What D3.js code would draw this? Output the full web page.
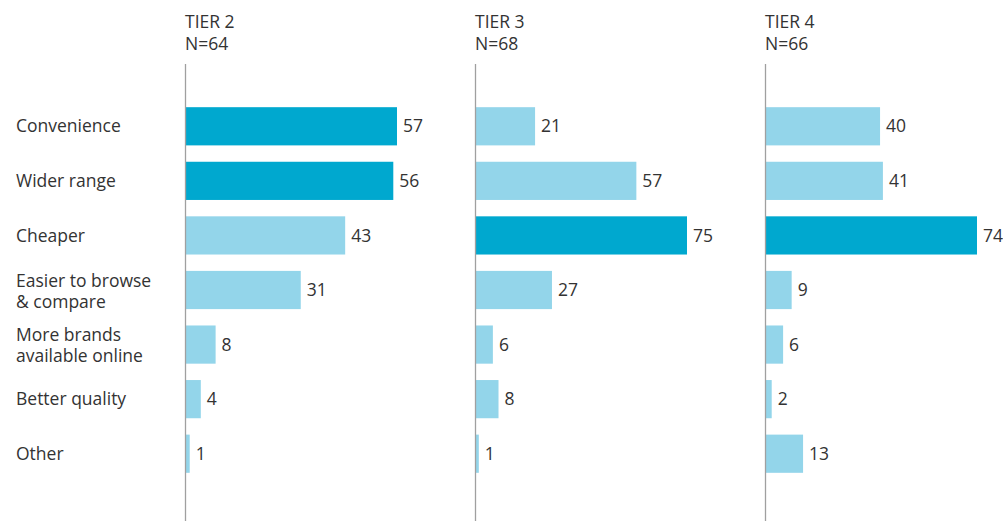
<!DOCTYPE html>
<html>
<head>
<meta charset="utf-8">
<script src="https://cdn.jsdelivr.net/npm/d3@7"></script>
<style>
  body { margin: 0; background: #fff; }
  text { font-family: "Open Sans", "Noto Sans", sans-serif; fill: #333; }
</style>
</head>
<body>
<div id="vis"></div>
<script>
const WIDTH = 1003;
const HEIGHT = 521;

// data
const categories = ["Convenience", "Wider range", "Cheaper", "Easier to browse\n& compare",
                    "More brands\navailable online", "Better quality", "Other"];
const tiers = ["TIER 2", "TIER 3", "TIER 4"];
const sampleSizes = ["N=64", "N=68", "N=66"];
const tier2 = [57, 56, 43, 31, 8, 4, 1];
const tier3 = [21, 57, 75, 27, 6, 8, 1];
const tier4 = [40, 41, 74, 9, 6, 2, 13];
const highlighted = [["Convenience", "Wider range"], ["Cheaper"], ["Cheaper"]];

const series = [tier2, tier3, tier4];

const DARK = "#00a8cf";
const LIGHT = "#93d5ea";
const FONT = "17.5px";

const svg = d3.select("#vis").append("svg")
  .attr("width", WIDTH)
  .attr("height", HEIGHT);

const Y = d3.scaleBand()
  .domain(categories)
  .range([99, 481])
  .paddingInner(0.3)
  .paddingOuter(0.15);

// category labels (two lines where needed)
const labels = svg.append("g").selectAll("text")
  .data(categories)
  .enter().append("text")
    .attr("x", 16)
    .attr("y", d => Y(d) + Y.bandwidth() / 2)
    .attr("font-size", FONT);

labels.each(function(d) {
  const lines = d.split("\n");
  const t = d3.select(this);
  lines.forEach((line, i) => {
    t.append("tspan")
      .attr("x", 16)
      .attr("dy", i === 0 ? (0.35 - (lines.length - 1) * 0.55) + "em" : "1.2em")
      .text(line);
  });
});

const PANEL_X = d3.scalePoint().domain(tiers).range([185, 765]);
const BAR_MAX = 211;

tiers.forEach((tier, i) => {
  const values = series[i];
  const x0 = PANEL_X(tier);
  const X = d3.scaleLinear()
    .domain([0, d3.max(values)])
    .range([0, BAR_MAX]);

  const g = svg.append("g").attr("transform", "translate(" + x0 + ",0)");

  g.append("text").attr("x", 0).attr("y", 28).attr("font-size", FONT).text(tier);
  g.append("text").attr("x", 0).attr("y", 50).attr("font-size", FONT).text(sampleSizes[i]);

  g.selectAll("rect")
    .data(values)
    .enter().append("rect")
      .attr("x", 1)
      .attr("y", (d, j) => Y(categories[j]))
      .attr("width", d => X(d))
      .attr("height", Y.bandwidth())
      .attr("fill", (d, j) => highlighted[i].includes(categories[j]) ? DARK : LIGHT);

  g.selectAll(".val")
    .data(values)
    .enter().append("text")
      .attr("class", "val")
      .attr("x", d => X(d) + 7)
      .attr("y", (d, j) => Y(categories[j]) + Y.bandwidth() / 2)
      .attr("dy", "0.35em")
      .attr("font-size", FONT)
      .text(d => d);

  g.append("line")
    .attr("x1", 0.5).attr("x2", 0.5)
    .attr("y1", 64).attr("y2", HEIGHT)
    .attr("stroke", "#a0a0a0")
    .attr("stroke-width", 1.3);
});
</script>
</body>
</html>
